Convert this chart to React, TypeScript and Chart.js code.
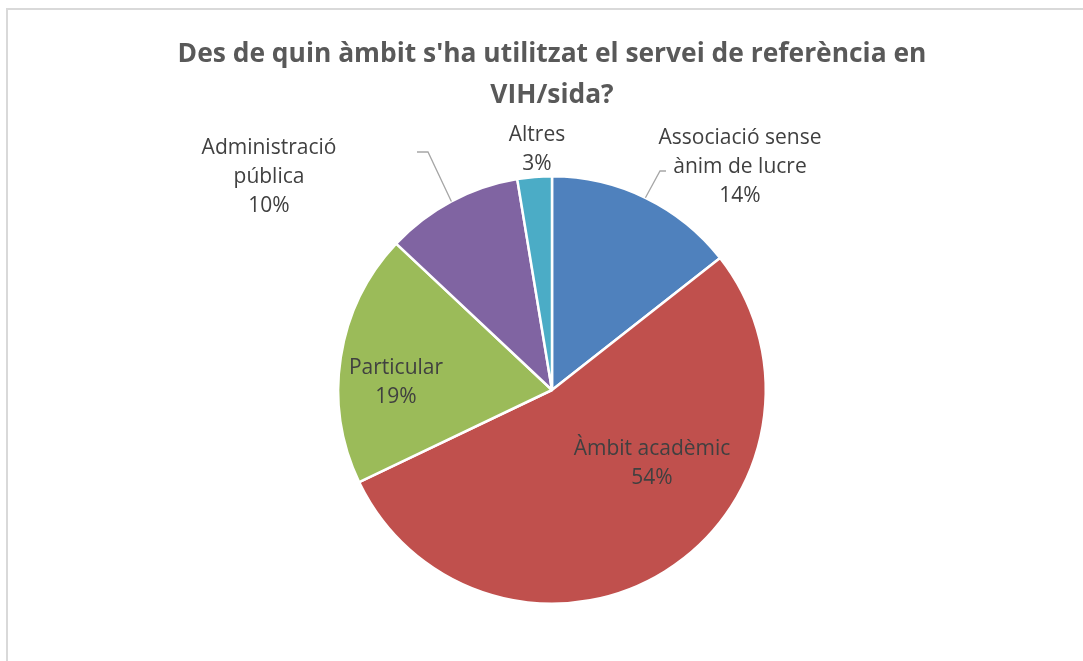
import React, { useEffect, useRef } from "react";
import { Chart, registerables } from "chart.js";

Chart.register(...registerables);

const titleLines = ["Des de quin àmbit s'ha utilitzat el servei de referència en", "VIH/sida?"];
const categories = [
  "Associació sense ànim de lucre",
  "Àmbit acadèmic",
  "Particular",
  "Administració pública",
  "Altres",
];
const categoryLines = [
  ["Associació sense", "ànim de lucre"],
  ["Àmbit acadèmic"],
  ["Particular"],
  ["Administració", "pública"],
  ["Altres"],
];
const values = [14.4, 53.5, 19.1, 10.4, 2.6];
const colors = ["#4F81BD", "#C0504D", "#9BBB59", "#8064A2", "#4BACC6"];

// label placement relative to pie center (px), first-line centre
const labelOffsets = [
  [188, -252],
  [100, 59],
  [-156, -22],
  [-283, -242],
  [-15, -255],
];
// leader lines: elbow and end, relative to pie centre (null = none)
const leaders: (number[][] | null)[] = [
  [[108, -219], [114, -219]],
  null,
  null,
  [[-124, -238], [-135, -238]],
  null,
];

const FONT = "'Open Sans', Lato, sans-serif";

const labelPlugin = {
  id: "sliceLabels",
  afterDatasetsDraw(chart: any) {
    const ctx = chart.ctx;
    const meta = chart.getDatasetMeta(0);
    const data = chart.data.datasets[0].data as number[];
    const total = data.reduce((a, b) => a + b, 0);
    ctx.save();
    meta.data.forEach((arc: any, i: number) => {
      const p = arc.getProps(["x", "y", "startAngle", "endAngle", "outerRadius"], true);
      const cx = p.x;
      const cy = p.y;
      const ld = leaders[i];
      if (ld) {
        const mid = (p.startAngle + p.endAngle) / 2;
        const sx = cx + Math.cos(mid) * p.outerRadius;
        const sy = cy + Math.sin(mid) * p.outerRadius;
        ctx.beginPath();
        ctx.strokeStyle = "#A6A6A6";
        ctx.lineWidth = 1.3;
        ctx.moveTo(sx, sy);
        ld.forEach((pt) => ctx.lineTo(cx + pt[0], cy + pt[1]));
        ctx.stroke();
      }
      const lines = [...categoryLines[i], Math.round((data[i] / total) * 100) + "%"];
      ctx.fillStyle = "#404040";
      ctx.font = "21px " + FONT;
      ctx.textAlign = "center";
      ctx.textBaseline = "middle";
      const [ox, oy] = labelOffsets[i];
      lines.forEach((t, k) => ctx.fillText(t, cx + ox, cy + oy + k * 29));
    });
    ctx.restore();
  },
};

export default function App() {
  const ref = useRef<HTMLCanvasElement | null>(null);
  useEffect(() => {
    if (!ref.current) return;
    const chart = new Chart(ref.current, {
      type: "pie",
      data: {
        labels: categories,
        datasets: [
          {
            data: values,
            backgroundColor: colors,
            borderColor: "#FFFFFF",
            borderWidth: 2.5,
          },
        ],
      },
      options: {
        responsive: false,
        animation: false,
        layout: { padding: { left: 21, right: 0, top: 0, bottom: 56 } },
        plugins: {
          legend: { display: false },
          tooltip: { enabled: false },
          title: {
            display: true,
            text: titleLines,
            color: "#595959",
            font: { family: FONT, size: 26.4, weight: "bold", lineHeight: 41 / 26.4 },
            padding: { top: 33.5, bottom: 59.5 },
          },
        },
      },
      plugins: [labelPlugin],
    });
    return () => chart.destroy();
  }, []);

  return (
    <div style={{ position: "fixed", left: 0, top: 0, width: 1083, height: 661, overflow: "hidden", background: "#fff" }}>
      <div
        style={{
          position: "absolute",
          left: 6,
          top: 8,
          width: 1200,
          height: 800,
          border: "2px solid #D9D9D9",
          boxSizing: "border-box",
        }}
      />
      <canvas ref={ref} width={1083} height={661} style={{ position: "absolute", left: 0, top: 0 }} />
    </div>
  );
}
